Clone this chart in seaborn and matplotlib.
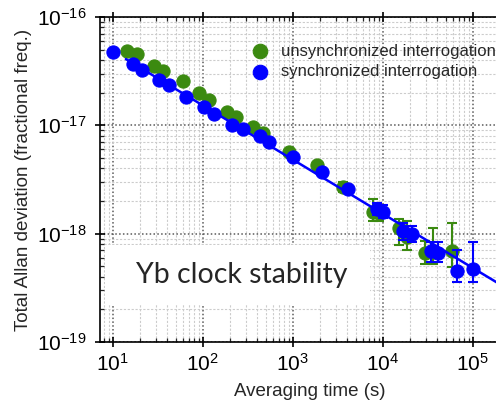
import matplotlib
matplotlib.use("Agg")
import matplotlib.pyplot as plt
import matplotlib.ticker as mticker
from matplotlib.patches import Rectangle
import numpy as np
import pandas as pd
import seaborn as sns

# --- data ---
tau_sync = [10.2, 16.7, 21, 33, 42.6, 66, 104, 134, 210, 278, 434, 550,
            1000, 2100, 4150, 8570, 10160, 16700, 21000, 34100, 41500, 67500, 101600]
adev_sync = [4.72e-17, 3.68e-17, 3.24e-17, 2.62e-17, 2.34e-17, 1.84e-17, 1.49e-17,
             1.26e-17, 1.01e-17, 9.2e-18, 8.0e-18, 7.06e-18, 5.13e-18, 3.73e-18,
             2.58e-18, 1.68e-18, 1.59e-18, 1.06e-18, 9.9e-19, 6.9e-19, 6.67e-19,
             4.55e-19, 4.68e-19]
sync_lo = [4.72e-17, 3.68e-17, 3.24e-17, 2.62e-17, 2.34e-17, 1.84e-17, 1.49e-17,
           1.26e-17, 1.01e-17, 9.2e-18, 8.0e-18, 7.06e-18, 5.13e-18, 3.73e-18,
           2.45e-18, 1.5e-18, 1.4e-18, 8.8e-19, 8.4e-19, 5.5e-19, 5.5e-19,
           3.6e-19, 3.6e-19]
sync_hi = [4.72e-17, 3.68e-17, 3.24e-17, 2.62e-17, 2.34e-17, 1.84e-17, 1.49e-17,
           1.26e-17, 1.01e-17, 9.2e-18, 8.0e-18, 7.06e-18, 5.13e-18, 3.73e-18,
           2.75e-18, 1.9e-18, 1.84e-18, 1.25e-18, 1.17e-18, 8.4e-19, 8.4e-19,
           7.06e-19, 8.4e-19]

tau_unsync = [14.5, 18.5, 28.8, 36.5, 60, 91.6, 117.5, 185, 234, 366, 464,
              916, 1850, 3650, 7870, 9160, 15300, 18500, 29500, 36500, 58500]
adev_unsync = [4.89e-17, 4.55e-17, 3.53e-17, 3.19e-17, 2.58e-17, 2.0e-17, 1.71e-17,
               1.34e-17, 1.2e-17, 9.6e-18, 8.55e-18, 5.7e-18, 4.3e-18, 2.71e-18,
               1.59e-18, 1.54e-18, 1.12e-18, 9.35e-19, 6.58e-19, 6.8e-19, 6.95e-19]
unsync_lo = [4.89e-17, 4.55e-17, 3.53e-17, 3.19e-17, 2.58e-17, 2.0e-17, 1.71e-17,
             1.34e-17, 1.2e-17, 9.6e-18, 8.55e-18, 5.6e-18, 4.1e-18, 2.45e-18,
             1.3e-18, 1.3e-18, 7.85e-19, 7.0e-19, 5.2e-19, 5.25e-19, 4.9e-19]
unsync_hi = [4.89e-17, 4.55e-17, 3.53e-17, 3.19e-17, 2.58e-17, 2.0e-17, 1.71e-17,
             1.34e-17, 1.2e-17, 9.6e-18, 8.55e-18, 5.9e-18, 4.5e-18, 3.0e-18,
             2.07e-18, 1.8e-18, 1.38e-18, 1.3e-18, 8.5e-19, 1.12e-18, 1.26e-18]

fit_tau = [14, 3.4e5]
fit_adev = [4.09e-17, 2.62e-19]

x_ticks = [1e1, 1e2, 1e3, 1e4, 1e5]
y_ticks = [1e-19, 1e-18, 1e-17, 1e-16]

GREEN = "#3b8a10"
BLUE = "#0000ff"

sns.set_style("white")
plt.rcParams["font.family"] = ["Liberation Sans", "DejaVu Sans"]
plt.rcParams["mathtext.fontset"] = "custom"
plt.rcParams["mathtext.rm"] = "Liberation Sans"
plt.rcParams["mathtext.it"] = "Liberation Sans:italic"
plt.rcParams["mathtext.bf"] = "Liberation Sans:bold"

fig = plt.figure(figsize=(4.96, 4.09), dpi=100)
ax = fig.add_axes([100 / 496, 67 / 409, 420 / 496, 325 / 409])
ax.set_xscale("log")
ax.set_yscale("log")

# grid
ax.grid(True, which="major", color="#5a5a5a", linestyle=(0, (1, 1.5)), linewidth=1.1, zorder=0)
ax.grid(True, which="minor", color="#cccccc", linestyle=(0, (2, 1.5)), linewidth=0.8, zorder=0)
ax.set_axisbelow(True)

# white label box
ax.add_patch(Rectangle((0.012, 0.114), 0.631, 0.185, transform=ax.transAxes,
                       facecolor="white", edgecolor="none", zorder=1))
ax.text(0.337, 0.205, "Yb clock stability", transform=ax.transAxes,
        ha="center", va="center", fontsize=20.5, family=["Lato", "DejaVu Sans"], zorder=2)

df_u = pd.DataFrame({"tau": tau_unsync, "adev": adev_unsync})
df_s = pd.DataFrame({"tau": tau_sync, "adev": adev_sync})

# error bars
u = np.array(adev_unsync)
s = np.array(adev_sync)
ax.errorbar(tau_unsync, adev_unsync, yerr=[u - np.array(unsync_lo), np.array(unsync_hi) - u],
            fmt="none", ecolor=GREEN, elinewidth=1.5, capsize=3.5, capthick=1.5, zorder=3)
sns.scatterplot(data=df_u, x="tau", y="adev", ax=ax, color=GREEN, s=90,
                edgecolor=GREEN, linewidth=0.8, zorder=4, label="unsynchronized interrogation")
sns.lineplot(x=fit_tau, y=fit_adev, ax=ax, color=BLUE, linewidth=1.8, zorder=5)
ax.errorbar(tau_sync, adev_sync, yerr=[s - np.array(sync_lo), np.array(sync_hi) - s],
            fmt="none", ecolor=BLUE, elinewidth=1.5, capsize=3.5, capthick=1.5, zorder=6)
sns.scatterplot(data=df_s, x="tau", y="adev", ax=ax, color=BLUE, s=90,
                edgecolor=BLUE, linewidth=0.8, zorder=7, label="synchronized interrogation")

leg = ax.legend(loc="upper left", bbox_to_anchor=(0.362, 0.918), frameon=False,
                fontsize=12, handlelength=1.0, handletextpad=0.75, labelspacing=0.35,
                borderaxespad=0, borderpad=0, markerscale=1.1)

# axes styling
for sp in ["left", "bottom", "top"]:
    ax.spines[sp].set_linewidth(1.2)
    ax.spines[sp].set_color("black")
ax.spines["right"].set_visible(False)

ax.set_xticks(x_ticks)
ax.set_yticks(y_ticks)
ax.xaxis.set_minor_locator(mticker.LogLocator(base=10, subs=np.arange(2, 10), numticks=20))
ax.yaxis.set_minor_locator(mticker.LogLocator(base=10, subs=np.arange(2, 10), numticks=20))
ax.xaxis.set_minor_formatter(mticker.NullFormatter())
ax.yaxis.set_minor_formatter(mticker.NullFormatter())
ax.set_xlim(10 ** 0.859, 10 ** 5.526)
ax.set_ylim(1e-19, 1e-16)

ax.tick_params(which="major", direction="inout", length=7, width=1.2, labelsize=15,
               top=True, bottom=True, left=True, right=False, colors="black")
ax.tick_params(which="minor", direction="in", length=3, width=0.9,
               top=True, bottom=True, left=True, right=False)
ax.tick_params(axis="x", which="major", pad=4)
ax.tick_params(axis="y", which="major", pad=6)

ax.set_xlabel("Averaging time (s)", fontsize=13.5, labelpad=6)
ax.set_ylabel("Total Allan deviation (fractional freq.)", fontsize=13.5, labelpad=4)

fig.savefig("out.png", dpi=100)
